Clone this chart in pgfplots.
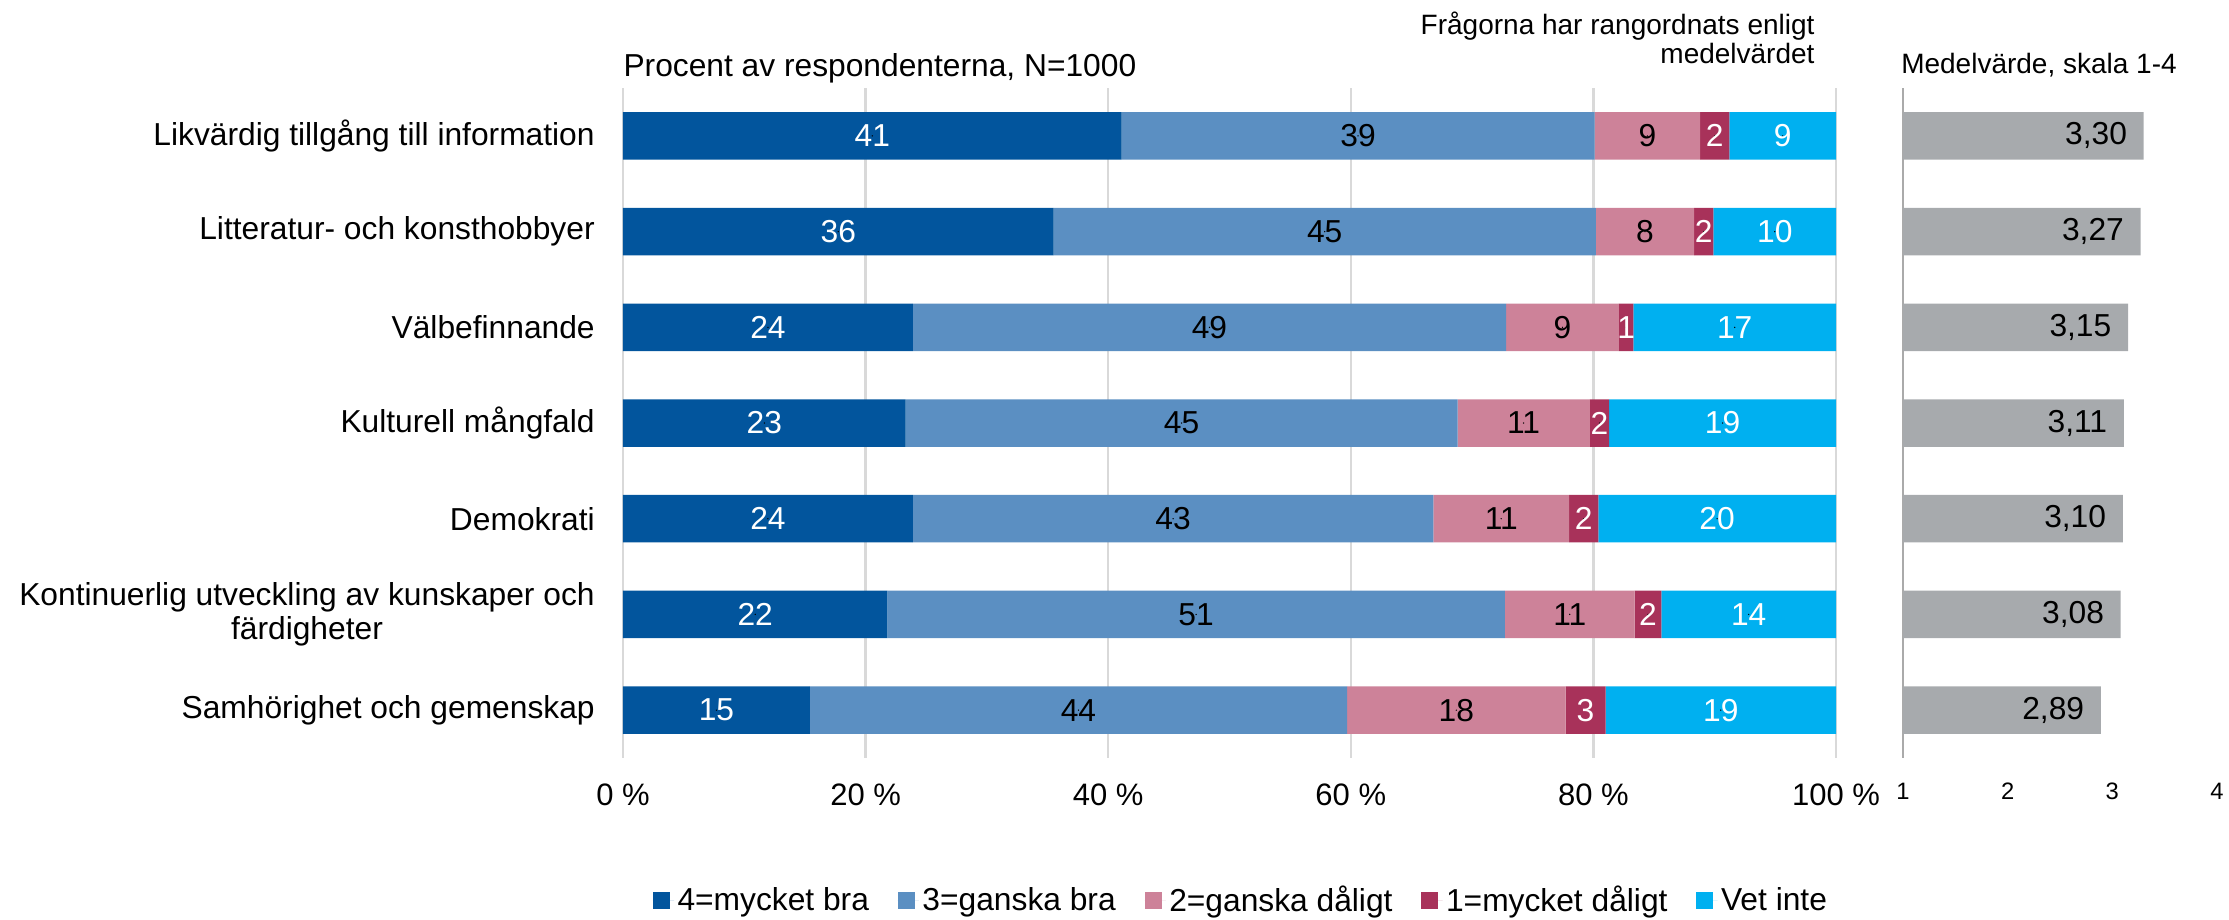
\documentclass[border=0pt]{standalone}
\usepackage{fontspec}
\setmainfont{Liberation Sans}
\usepackage{pgfplots}
\pgfplotsset{compat=1.18}
\usepackage{pgfplotstable}

\definecolor{cFour}{RGB}{2,85,157}
\definecolor{cThree}{RGB}{91,143,194}
\definecolor{cTwo}{RGB}{205,130,153}
\definecolor{cOne}{RGB}{168,50,90}
\definecolor{cVet}{RGB}{0,176,240}
\definecolor{meanGray}{RGB}{167,170,173}
\definecolor{gridGray}{RGB}{217,217,217}
\definecolor{axisGray}{RGB}{170,170,170}

\newcommand{\bigfont}{\fontsize{12.7}{13.6}\selectfont}
\newcommand{\midfont}{\fontsize{11.2}{12.4}\selectfont}

% share per answer, label = rounded value shown in the bar
\pgfplotstableread{
y a b c d e la lb lc ld le
0 41.1 39.0 8.7 2.4 8.8 41 39 9 2 9
1 35.5 44.7 8.1 1.6 10.1 36 45 8 2 10
2 23.9 48.9 9.3 1.2 16.7 24 49 9 1 17
3 23.3 45.5 10.9 1.6 18.7 23 45 11 2 19
4 23.9 42.9 11.2 2.4 19.6 24 43 11 2 20
5 21.8 50.9 10.7 2.2 14.4 22 51 11 2 14
6 15.4 44.3 18.0 3.3 19.0 15 44 18 3 19
}\shares

% mean, scale 1-4
\pgfplotstableread{
y m
0 3.30
1 3.27
2 3.15
3 3.11
4 3.10
5 3.08
6 2.89
}\means

\begin{document}
\begin{tikzpicture}
\useasboundingbox (0,0) rectangle (891.6pt,367.6pt);

\pgfplotsset{
  base/.style={
    at={(249.2pt,64.4pt)}, anchor=south west,
    scale only axis, width=485.2pt, height=268pt,
    xmin=0, xmax=100, ymin=-0.5, ymax=6.5, y dir=reverse,
  },
}

\begin{axis}[
  base,
  xbar stacked, bar width=19pt,
  xtick={0,20,...,100},
  xticklabels={0 \%,20 \%,40 \%,60 \%,80 \%,100 \%},
  ytick={0,...,6},
  yticklabels={Likvärdig tillgång till information,
    Litteratur- och konsthobbyer,
    Välbefinnande,
    Kulturell mångfald,
    Demokrati,
    {Kontinuerlig utveckling av kunskaper och\\färdigheter},
    Samhörighet och gemenskap},
  xmajorgrids, major grid style={draw=gridGray, line width=1pt},
  axis line style={draw=none}, major tick length=0pt,
  xticklabel style={font=\fontsize{12.4}{14}\selectfont, yshift=-6.7pt},
  yticklabel style={font=\bigfont, align=center, xshift=-7.8pt},
  legend style={at={(0.510,-0.2134)}, anchor=center, draw=none,
    legend columns=5, font=\bigfont,
    nodes={inner sep=1.4pt},
    /tikz/every even column/.append style={column sep=10.1pt}},
  legend image code/.code={\fill[#1] (0pt,-3.4pt) rectangle (6.8pt,3.4pt);
    \path (0pt,0pt) -- (8.5pt,0pt);},
]
\addplot[fill=cFour, draw=none] table[x=a, y=y] {\shares};
\addlegendentry{4=mycket bra}
\addplot[fill=cThree, draw=none] table[x=b, y=y] {\shares};
\addlegendentry{3=ganska bra}
\addplot[fill=cTwo, draw=none] table[x=c, y=y] {\shares};
\addlegendentry{2=ganska dåligt}
\addplot[fill=cOne, draw=none] table[x=d, y=y] {\shares};
\addlegendentry{1=mycket dåligt}
\addplot[fill=cVet, draw=none] table[x=e, y=y] {\shares};
\addlegendentry{Vet inte}
\end{axis}

% labels in the middle of each segment
\begin{axis}[
  base, hide axis, clip=false,
  only marks, mark=*, mark size=0.01pt, mark options={draw=none, fill=none},
  nodes near coords, point meta=explicit symbolic,
  every node near coord/.append style={anchor=center, font=\bigfont},
]
\addplot[nodes near coords style={text=white}]
  table[x expr=\thisrow{a}/2, y=y, meta=la] {\shares};
\addplot[nodes near coords style={text=black}]
  table[x expr=\thisrow{a}+\thisrow{b}/2, y=y, meta=lb] {\shares};
\addplot[nodes near coords style={text=black}]
  table[x expr=\thisrow{a}+\thisrow{b}+\thisrow{c}/2, y=y, meta=lc] {\shares};
\addplot[nodes near coords style={text=white}]
  table[x expr=\thisrow{a}+\thisrow{b}+\thisrow{c}+\thisrow{d}/2, y=y, meta=ld] {\shares};
\addplot[nodes near coords style={text=white}]
  table[x expr=\thisrow{a}+\thisrow{b}+\thisrow{c}+\thisrow{d}+\thisrow{e}/2, y=y, meta=le] {\shares};
\end{axis}

\begin{axis}[
  at={(761.2pt,64.4pt)}, anchor=south west,
  scale only axis, width=125.6pt, height=268pt,
  xbar, bar width=19pt,
  xmin=1, xmax=4, ymin=-0.5, ymax=6.5, y dir=reverse,
  xtick={1,2,3,4}, xticklabels={1,2,3,4}, ytick=\empty,
  axis line style={draw=none}, major tick length=0pt,
  extra x ticks={1}, extra x tick labels={},
  extra x tick style={grid=major, major grid style={draw=axisGray, line width=1pt}},
  xticklabel style={font=\fontsize{9.5}{11}\selectfont, yshift=-6.4pt},
  point meta=x,
  nodes near coords={\pgfmathprintnumber[fixed,fixed zerofill,precision=2,use comma,assume math mode=true]{\pgfplotspointmeta}},
  every node near coord/.append style={anchor=east, inner sep=0pt, xshift=-6.5pt, text=black, font=\bigfont},
]
\addplot[fill=meanGray, draw=none] table[x=m, y=y] {\means};
\end{axis}

\node[anchor=base west, inner sep=0pt, font=\bigfont] at (249.2pt,337pt) {Procent av respondenterna, N=1000};
\node[anchor=base east, inner sep=0pt, font=\midfont] at (726pt,353.6pt) {Frågorna har rangordnats enligt};
\node[anchor=base east, inner sep=0pt, font=\midfont] at (726pt,342pt) {medelvärdet};
\node[anchor=base west, inner sep=0pt, font=\midfont] at (760.3pt,338pt) {Medelvärde, skala 1-4};
\end{tikzpicture}
\end{document}
